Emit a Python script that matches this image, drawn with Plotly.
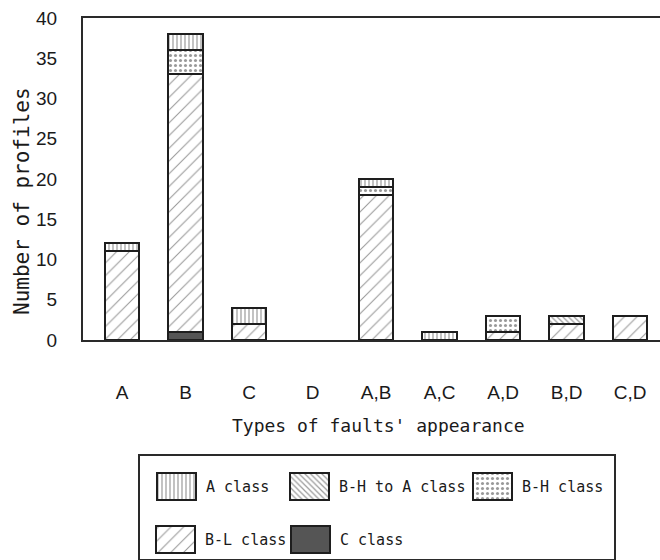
import plotly.graph_objects as go

# Profile counts per type of fault appearance, split by class
categories = ["A", "B", "C", "D", "A,B", "A,C", "A,D", "B,D", "C,D"]
c_class = [0, 1, 0, 0, 0, 0, 0, 0, 0]
bl_class = [11, 32, 2, 0, 18, 0, 1, 2, 3]
bh_class = [0, 3, 0, 0, 1, 0, 2, 0, 0]
bh_to_a_class = [0, 0, 0, 0, 0, 0, 0, 1, 0]
a_class = [1, 2, 2, 0, 1, 1, 0, 0, 0]

series_names = ["A class", "B-H to A class", "B-H class", "B-L class", "C class"]
y_ticks = [0, 5, 10, 15, 20, 25, 30, 35, 40]

W, H = 660, 560
OUTLINE = "#1e1e1e"
FG = "#333333"

# fill styles for each class (pattern shape, tile size, solidity)
styles = {
    "A class": dict(shape="|", size=4, solidity=0.3),
    "B-H to A class": dict(shape="\\", size=4, solidity=0.3),
    "B-H class": dict(shape=".", size=5, solidity=0.3),
    "B-L class": dict(shape="/", size=9, solidity=0.12),
    "C class": None,
}


def marker_for(name):
    st = styles[name]
    if st is None:
        return dict(color="#555555", line=dict(color=OUTLINE, width=2))
    return dict(
        color="white",
        line=dict(color=OUTLINE, width=2),
        pattern=dict(shape=st["shape"], size=st["size"], solidity=st["solidity"],
                     fgcolor=FG, bgcolor="white", fillmode="overlay"),
    )


def nz(vals):
    return [v if v else None for v in vals]


fig = go.Figure()

# stacked bars, bottom to top
stack = [
    ("C class", c_class),
    ("B-L class", bl_class),
    ("B-H class", bh_class),
    ("B-H to A class", bh_to_a_class),
    ("A class", a_class),
]
for name, vals in stack:
    fig.add_trace(go.Bar(x=categories, y=nz(vals), name=name,
                         marker=marker_for(name), showlegend=False,
                         hoverinfo="x+y+name"))

# hand-built legend panel drawn on its own axes (pixel units)
legend_left, legend_right, legend_top, legend_bottom = 140, 614, 456, 559
swatches = {
    "A class": (157, 473),
    "B-H to A class": (290, 473),
    "B-H class": (473, 473),
    "B-L class": (156, 526),
    "C class": (291, 526),
}
sw_w, sw_h = 39, 27
for name in series_names:
    x0, y0 = swatches[name]
    fig.add_trace(go.Bar(x=[x0 + sw_w / 2], y=[sw_h], base=[y0], width=[sw_w],
                         marker=marker_for(name), xaxis="x2", yaxis="y2",
                         showlegend=False, hoverinfo="skip"))
    fig.add_annotation(x=x0 + sw_w + 8, y=y0 + sw_h / 2, xref="x2", yref="y2",
                       text=name, showarrow=False, xanchor="left", yanchor="middle",
                       font=dict(family="DejaVu Sans Mono", size=15, color="#1a1a1a"))

fig.update_layout(
    width=W, height=H,
    margin=dict(l=0, r=0, t=0, b=0, autoexpand=False),
    paper_bgcolor="white", plot_bgcolor="white",
    barmode="stack", bargap=0.46,
    xaxis=dict(
        domain=[83 / W, 1.0], range=[-0.614, 8.47],
        showline=True, linecolor="#2a2a2a", linewidth=2, mirror=True,
        showgrid=False, zeroline=False, ticks="", ticklabelstandoff=34,
        tickfont=dict(family="Liberation Sans", size=19, color="#1a1a1a"),
        automargin=False, fixedrange=True,
    ),
    yaxis=dict(
        domain=[1 - 340 / H, 1 - 18 / H], range=[0, 40],
        tickvals=y_ticks, ticktext=[str(v) for v in y_ticks],
        showline=True, linecolor="#2a2a2a", linewidth=2,
        showgrid=False, zeroline=False, ticks="", ticklabelstandoff=20,
        tickfont=dict(family="Liberation Sans", size=19, color="#1a1a1a"),
        automargin=False, fixedrange=True,
    ),
    xaxis2=dict(
        domain=[legend_left / W, legend_right / W], range=[legend_left, legend_right],
        anchor="y2", showline=True, mirror=True, linecolor="#2a2a2a", linewidth=2,
        showgrid=False, zeroline=False, showticklabels=False, ticks="",
        automargin=False, fixedrange=True,
    ),
    yaxis2=dict(
        domain=[1 - legend_bottom / H, 1 - legend_top / H],
        range=[legend_bottom, legend_top],
        anchor="x2", showline=True, mirror=True, linecolor="#2a2a2a", linewidth=2,
        showgrid=False, zeroline=False, showticklabels=False, ticks="",
        automargin=False, fixedrange=True,
    ),
)

# axis titles
fig.add_annotation(x=378 / W, y=1 - 425 / H, xref="paper", yref="paper",
                   text="Types of faults' appearance", showarrow=False,
                   xanchor="center", yanchor="middle",
                   font=dict(family="DejaVu Sans Mono", size=18, color="#1a1a1a"))
fig.add_annotation(x=22 / W, y=1 - 201 / H, xref="paper", yref="paper",
                   text="Number of profiles", showarrow=False, textangle=-90,
                   xanchor="center", yanchor="middle",
                   font=dict(family="DejaVu Sans Mono", size=21, color="#1a1a1a"))

fig.write_html("out.html")
